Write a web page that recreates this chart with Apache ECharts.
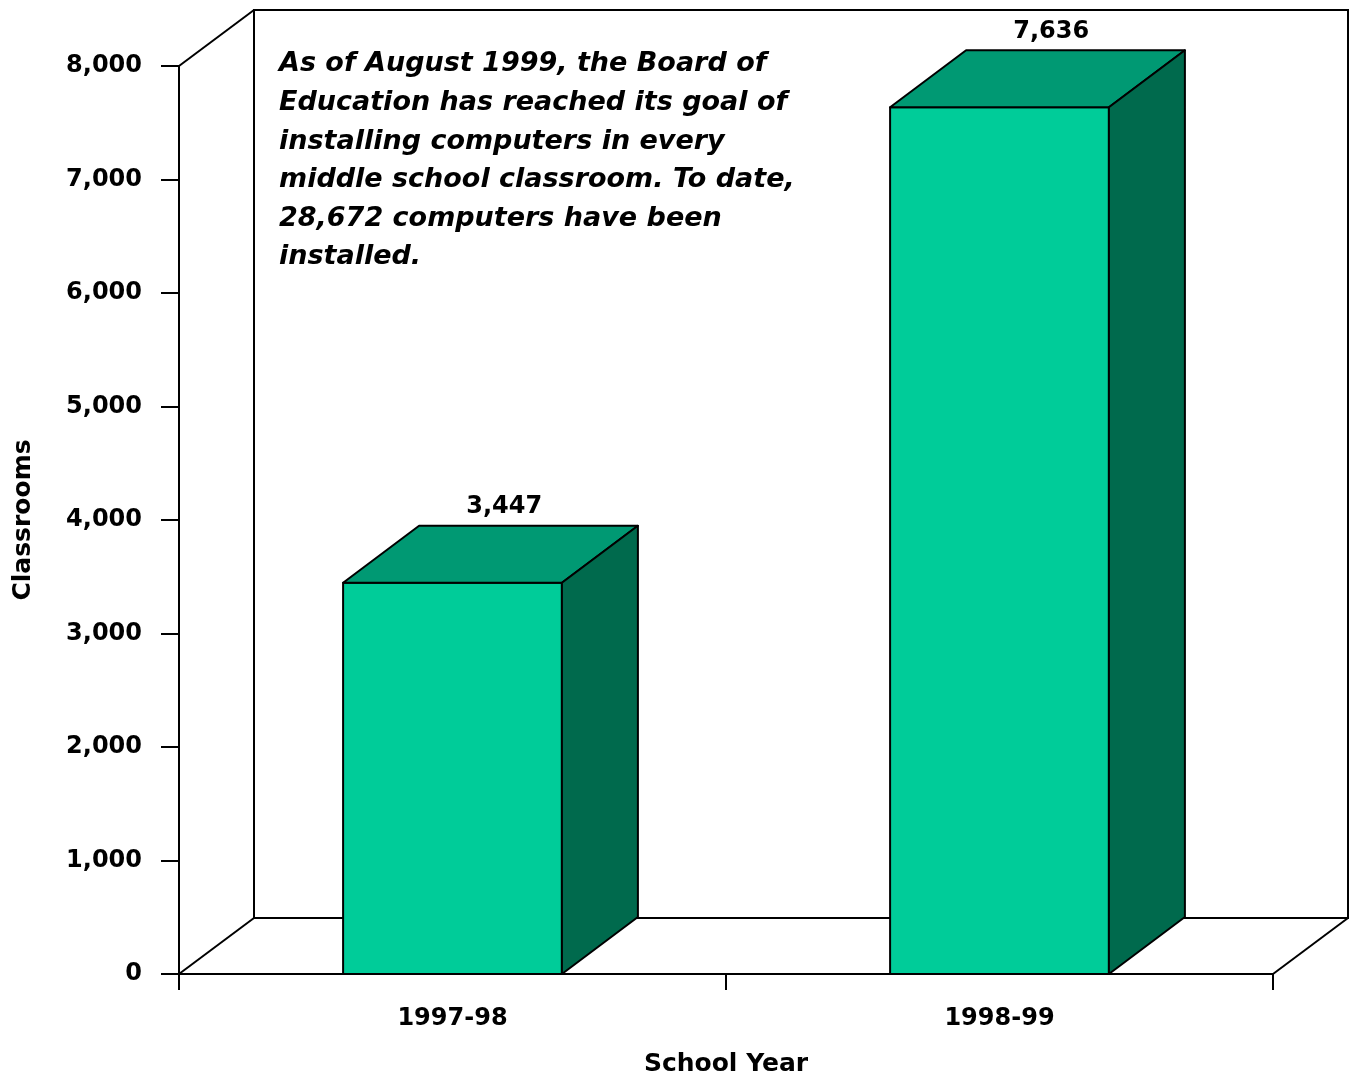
<!DOCTYPE html>
<html>
<head>
<meta charset="utf-8">
<script src="https://cdn.jsdelivr.net/npm/echarts@6/dist/echarts.min.js"></script>
<style>
  html, body { margin: 0; padding: 0; background: #ffffff; }
  #chart { width: 1357px; height: 1076px; }
</style>
</head>
<body>
<div id="chart"></div>
<script>
// data
const years = ["1997-98", "1998-99"];
const classrooms = [3447, 7636];
const yTicks = [0, 1000, 2000, 3000, 4000, 5000, 6000, 7000, 8000];

const note =
  "As of August 1999, the Board of\n" +
  "Education has reached its goal of\n" +
  "installing computers in every\n" +
  "middle school classroom. To date,\n" +
  "28,672 computers have been\n" +
  "installed.";

// 3d depth offset (pixels)
const DX = 75;
const DY = -56;

const FONT = "DejaVu Sans";
const fmt = (v) => v.toLocaleString("en-US");

const chart = echarts.init(document.getElementById("chart"));

// back wall + floor + left side edges
const renderFrame = (params, api) => {
  const cs = params.coordSys;
  const x0 = cs.x, x1 = cs.x + cs.width;
  const yT = cs.y, yB = cs.y + cs.height;
  const line = { stroke: "#000", lineWidth: 2, fill: null };
  return {
    type: "group",
    children: [
      { type: "rect", shape: { x: x0 + DX, y: yT + DY, width: cs.width, height: cs.height },
        style: { fill: "#fff", stroke: "#000", lineWidth: 2 } },
      { type: "line", shape: { x1: x0, y1: yT, x2: x0 + DX, y2: yT + DY }, style: line },
      { type: "line", shape: { x1: x0, y1: yB, x2: x0 + DX, y2: yB + DY }, style: line },
      { type: "line", shape: { x1: x1, y1: yB, x2: x1 + DX, y2: yB + DY }, style: line },
    ],
  };
};

// 3d box per bar
const renderBar = (params, api) => {
  const cat = api.value(0);
  const val = api.value(1);
  const top = api.coord([cat, val]);
  const base = api.coord([cat, 0]);
  const w = api.size([1, 0])[0] * 0.4;
  const l = top[0] - w / 2, r = top[0] + w / 2;
  const t = top[1], b = base[1];
  const bx = 76, by = -57;
  const stroke = { stroke: "#000", lineWidth: 2, lineJoin: "round" };
  return {
    type: "group",
    children: [
      { type: "polygon", shape: { points: [[l, b], [r, b], [r, t], [l, t]] },
        style: Object.assign({ fill: "#00CC99" }, stroke) },
      { type: "polygon", shape: { points: [[l, t], [r, t], [r + bx, t + by], [l + bx, t + by]] },
        style: Object.assign({ fill: "#009973" }, stroke) },
      { type: "polygon", shape: { points: [[r, t], [r, b], [r + bx, b + by], [r + bx, t + by]] },
        style: Object.assign({ fill: "#006A4D" }, stroke) },
      { type: "text", x: top[0] + bx * 0.68, y: t + by - 7,
        style: { text: fmt(val), fill: "#000", font: "bold 24px " + FONT,
                 align: "center", verticalAlign: "bottom" } },
    ],
  };
};

const option = {
  backgroundColor: "#ffffff",
  animation: false,
  grid: { left: 179, right: 84, top: 66, bottom: 102, outerBoundsMode: "none", containLabel: false },
  xAxis: {
    type: "category",
    data: years,
    name: "School Year",
    nameLocation: "middle",
    nameGap: 78,
    nameTextStyle: { color: "#000", fontSize: 25, fontWeight: "bold", fontFamily: FONT },
    axisLine: { lineStyle: { color: "#000", width: 2 } },
    axisTick: { show: true, alignWithLabel: false, interval: 0, length: 16,
                lineStyle: { color: "#000", width: 2 } },
    axisLabel: { color: "#000", fontSize: 24, fontWeight: "bold", fontFamily: FONT, margin: 33 },
    splitLine: { show: false },
  },
  yAxis: {
    type: "value",
    min: yTicks[0],
    max: yTicks[yTicks.length - 1],
    interval: 1000,
    name: "Classrooms",
    nameLocation: "middle",
    nameRotate: 90,
    nameGap: 143,
    nameTextStyle: { color: "#000", fontSize: 25, fontWeight: "bold", fontFamily: FONT },
    axisLine: { show: true, lineStyle: { color: "#000", width: 2 } },
    axisTick: { show: true, length: 18, lineStyle: { color: "#000", width: 2 } },
    axisLabel: { color: "#000", fontSize: 24, fontWeight: "bold", fontFamily: FONT, margin: 37,
                 formatter: (v) => fmt(v) },
    splitLine: { show: false },
  },
  graphic: [
    { type: "text", left: 279, top: 45, z: 100,
      style: { text: note, fill: "#000", font: "italic bold 27px " + FONT, lineHeight: 38.6 } },
  ],
  series: [
    { type: "custom", name: "frame", renderItem: renderFrame, data: [[0, 0]], z: 0, silent: true },
    { type: "custom", name: "Classrooms", renderItem: renderBar, z: 2,
      data: years.map((y, i) => [i, classrooms[i]]) },
  ],
};

chart.setOption(option);
</script>
</body>
</html>
